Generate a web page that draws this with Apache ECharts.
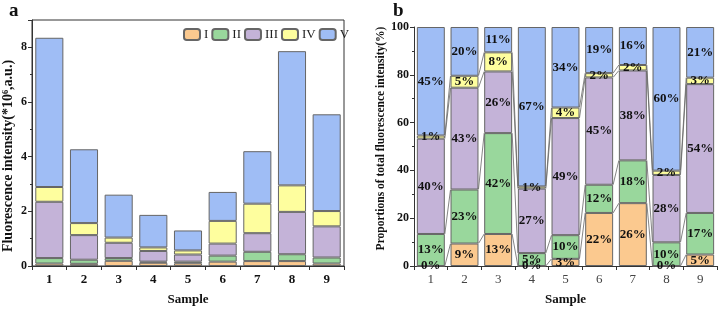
<!DOCTYPE html>
<html>
<head>
<meta charset="utf-8">
<script src="https://cdn.jsdelivr.net/npm/echarts@6/dist/echarts.min.js"></script>
<style>
  html, body { margin: 0; padding: 0; background: #fff; }
  #chart { width: 722px; height: 311px; }
</style>
</head>
<body>
<div id="chart"></div>
<script>
var samples = ['1', '2', '3', '4', '5', '6', '7', '8', '9'];
var names = ['I', 'II', 'III', 'IV', 'V'];
var colors = ['#FBC98F', '#99D79C', '#C4B3D8', '#FEFE9E', '#9FBDF5'];

// panel a, intensity (*10^6 a.u.)
var intI   = [0.09, 0.08, 0.19, 0.12, 0.10, 0.16, 0.18, 0.18, 0.09];
var intII  = [0.20, 0.15, 0.10, 0.04, 0.06, 0.22, 0.34, 0.25, 0.22];
var intIII = [2.06, 0.90, 0.56, 0.39, 0.26, 0.44, 0.68, 1.55, 1.14];
var intIV  = [0.54, 0.44, 0.19, 0.13, 0.15, 0.83, 1.08, 0.97, 0.56];
var intV   = [5.46, 2.70, 1.57, 1.19, 0.73, 1.06, 1.92, 4.91, 3.54];

// panel b, proportions (%)
var pctI   = [0, 9.4, 13.4, 0, 3.0, 22.2, 26.3, 0, 4.8];
var pctII  = [13.4, 22.6, 42.2, 5.4, 9.9, 11.8, 17.9, 9.9, 17.4];
var pctIII = [39.9, 42.6, 25.8, 27.0, 49.0, 44.9, 37.6, 28.2, 53.9];
var pctIV  = [1.3, 5.0, 8.0, 0.9, 4.4, 1.8, 2.3, 1.8, 2.7];
var pctV   = [45.4, 20.4, 10.6, 66.7, 33.7, 19.3, 15.9, 60.1, 21.2];

var intData = [intI, intII, intIII, intIV, intV];
var pctData = [pctI, pctII, pctIII, pctIV, pctV];

var font = '"Liberation Serif", "Times New Roman", serif';
var axisCol = '#333';

function yAx(grid, max, interval, name, gap, size, pad) {
  return {
    gridIndex: grid, type: 'value', min: 0, max: max, interval: interval,
    name: name, nameLocation: 'middle', nameGap: gap,
    nameTextStyle: { fontFamily: font, fontWeight: 'bold', fontSize: size, color: '#111', padding: pad },
    axisLine: { show: true, lineStyle: { color: axisCol } },
    axisTick: { show: true, length: 4, lineStyle: { color: axisCol } },
    minorTick: { show: true, splitNumber: 2, length: 2, lineStyle: { color: axisCol } },
    splitLine: { show: false },
    axisLabel: {
      fontFamily: font, fontWeight: 'bold', fontSize: 12, color: '#111', margin: 5,
      formatter: function (v) { return v % interval ? '' : String(v); }
    }
  };
}

function xAx(grid, bold) {
  return {
    gridIndex: grid, type: 'category', data: samples,
    name: 'Sample', nameLocation: 'middle', nameGap: 27,
    nameTextStyle: { fontFamily: font, fontWeight: 'bold', fontSize: 13, color: '#111' },
    axisLine: { show: true, lineStyle: { color: axisCol } },
    axisTick: { show: true, length: 4, lineStyle: { color: axisCol } },
    axisLabel: { fontFamily: font, fontWeight: bold ? 'bold' : 'normal', fontSize: 13, color: bold ? '#111' : '#444', margin: 7 }
  };
}

var series = [];
names.forEach(function (n, k) {
  series.push({
    name: n, type: 'bar', stack: 'a', xAxisIndex: 0, yAxisIndex: 0,
    barWidth: '81%', data: intData[k],
    itemStyle: { color: colors[k], borderColor: '#666', borderWidth: 1 }
  });
});
names.forEach(function (n, k) {
  series.push({
    name: n, type: 'bar', stack: 'b', xAxisIndex: 1, yAxisIndex: 1,
    barWidth: '83%', data: pctData[k],
    itemStyle: { color: colors[k], borderColor: '#666', borderWidth: 1 },
    label: {
      show: true, position: 'inside', fontFamily: font, fontWeight: 'bold',
      fontSize: 13, color: '#111',
      formatter: function (p) { return Math.round(p.value) + '%'; }
    }
  });
});

// connector lines between neighbouring bars in panel b
var cum = [];
var run = samples.map(function () { return 0; });
for (var k = 0; k < 4; k++) {
  run = run.map(function (v, i) { return v + pctData[k][i]; });
  cum.push(run.slice());
}
var linkData = [];
cum.forEach(function (c) {
  for (var i = 0; i < samples.length - 1; i++) linkData.push([i, c[i], c[i + 1]]);
});
series.push({
  type: 'custom', xAxisIndex: 1, yAxisIndex: 1, z: 5, silent: true,
  data: linkData,
  renderItem: function (params, api) {
    var i = api.value(0);
    var half = api.size([1, 0])[0] * 0.83 / 2;
    var p1 = api.coord([i, api.value(1)]);
    var p2 = api.coord([i + 1, api.value(2)]);
    return {
      type: 'line',
      shape: { x1: p1[0] + half, y1: p1[1], x2: p2[0] - half, y2: p2[1] },
      style: { stroke: '#666', lineWidth: 0.8 }
    };
  }
});

var chart = echarts.init(document.getElementById('chart'));
chart.setOption({
  animation: false,
  graphic: [
    { type: 'text', left: 9, top: 2, style: { text: 'a', font: 'bold 19px ' + font, fill: '#111' } },
    { type: 'text', left: 393, top: 2, style: { text: 'b', font: 'bold 19px ' + font, fill: '#111' } }
  ],
  legend: {
    data: names, left: 178, top: 23, itemWidth: 16, itemHeight: 11, itemGap: 3,
    textStyle: { fontFamily: font, fontSize: 13, color: '#222', padding: [0, 0, 0, -1] }
  },
  grid: [
    { left: 32, right: 378, top: 20, bottom: 39, show: true, borderColor: axisCol, borderWidth: 1 },
    { left: 414, right: 5, top: 27, bottom: 39 }
  ],
  xAxis: [xAx(0, true), xAx(1, false)],
  yAxis: [
    yAx(0, 9, 2, 'Fluorescence intensity(*10\u2076,a.u.)', 17, 14, [0, 26, 0, 0]),
    yAx(1, 100, 20, 'Proportions of total fluorescence intensity(%)', 24, 11.5, [0, 0, 0, 16])
  ],
  series: series
});
</script>
</body>
</html>
